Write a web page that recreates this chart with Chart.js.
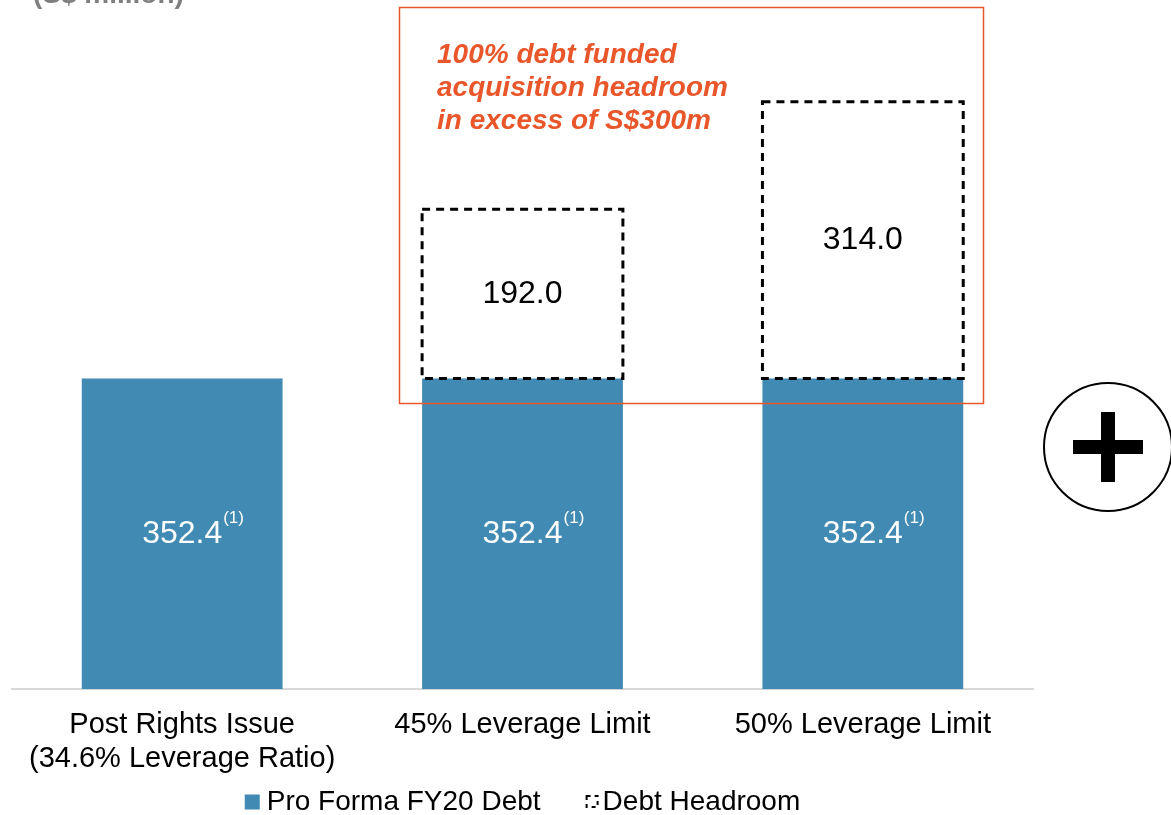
<!DOCTYPE html>
<html>
<head>
<meta charset="utf-8">
<script src="https://cdn.jsdelivr.net/npm/chart.js@4/dist/chart.umd.min.js"></script>
<style>
  html, body { margin: 0; padding: 0; background: #fff; overflow: hidden; }
  #graph { display: block; }
</style>
</head>
<body>
<canvas id="graph" width="1171" height="815"></canvas>
<script>
const categories = [
    ['Post Rights Issue', '(34.6% Leverage Ratio)'],
    '45% Leverage Limit',
    '50% Leverage Limit'
]
const debt = [352.4, 352.4, 352.4]
const headroom = [null, 192.0, 314.0]
const seriesNames = ['Pro Forma FY20 Debt', 'Debt Headroom']

const blue = '#418ab3'
const orange = '#e8562a'
const font = "'Liberation Sans', Arial, sans-serif"

const extras = {
    id: 'extras',
    afterDatasetsDraw(chart) {
        let ctx = chart.ctx
        ctx.save()
        // dashed outline of headroom bars
        chart.getDatasetMeta(1).data.forEach((bar, i) => {
            if (headroom[i] == null) return
            let p = bar.getProps(['x', 'y', 'base', 'width'], true)
            ctx.strokeStyle = '#000'
            ctx.lineWidth = 3
            ctx.setLineDash([8, 6])
            ctx.strokeRect(p.x - p.width / 2, p.y, p.width, p.base - p.y)
            ctx.setLineDash([])
            ctx.fillStyle = '#000'
            ctx.font = '32px ' + font
            ctx.textAlign = 'center'
            ctx.textBaseline = 'middle'
            ctx.fillText(headroom[i].toFixed(1), p.x, (p.y + p.base) / 2)
        })
        // debt labels
        chart.getDatasetMeta(0).data.forEach((bar, i) => {
            let p = bar.getProps(['x', 'y', 'base', 'width'], true)
            let cy = (p.y + p.base) / 2
            ctx.fillStyle = '#fff'
            ctx.font = '32px ' + font
            ctx.textAlign = 'center'
            ctx.textBaseline = 'middle'
            let txt = debt[i].toFixed(1)
            ctx.fillText(txt, p.x, cy)
            let w = ctx.measureText(txt).width
            ctx.font = '17px ' + font
            ctx.textAlign = 'left'
            ctx.fillText('(1)', p.x + w / 2 + 1, cy - 16)
        })
        ctx.restore()
    },
    afterDraw(chart) {
        let ctx = chart.ctx
        let area = chart.chartArea
        ctx.save()
        // cut-off unit title
        ctx.fillStyle = '#7f7f7f'
        ctx.font = 'bold 28px ' + font
        ctx.textAlign = 'left'
        ctx.textBaseline = 'alphabetic'
        ctx.fillText('(S$ million)', 33, 3)
        // orange callout box
        ctx.strokeStyle = orange
        ctx.lineWidth = 1.5
        ctx.strokeRect(399.5, 7.5, 584, 396)
        ctx.fillStyle = orange
        ctx.font = 'italic bold 28px ' + font
        ;['100% debt funded', 'acquisition headroom', 'in excess of S$300m'].forEach((l, i) => {
            ctx.fillText(l, 437, 63 + i * 33)
        })
        // plus sign in circle
        ctx.strokeStyle = '#000'
        ctx.lineWidth = 2
        ctx.beginPath()
        ctx.arc(1108, 447, 64, 0, Math.PI * 2)
        ctx.stroke()
        ctx.fillStyle = '#000'
        ctx.fillRect(1073, 440, 70, 14)
        ctx.fillRect(1101, 412, 14, 70)

        // legend
        ctx.font = '28px ' + font
        ctx.textBaseline = 'middle'
        let w0 = ctx.measureText(seriesNames[0]).width
        let w1 = ctx.measureText(seriesNames[1]).width
        let total = 15 + 7 + w0 + 45 + 14 + 3 + w1
        let x = (area.left + area.right) / 2 - total / 2
        let y = 802
        ctx.fillStyle = blue
        ctx.fillRect(x, y - 7.5, 15, 15)
        ctx.fillStyle = '#000'
        ctx.fillText(seriesNames[0], x + 22, y)
        x += 22 + w0 + 45
        ctx.strokeStyle = '#000'
        ctx.lineWidth = 2
        ctx.setLineDash([4, 4])
        ctx.strokeRect(x + 1, y - 6, 11, 11)
        ctx.setLineDash([])
        ctx.fillText(seriesNames[1], x + 17, y)
        ctx.restore()
    }
}

let ctx = document.getElementById('graph').getContext('2d')
new Chart(ctx, {
    type: 'bar',
    data: {
        labels: categories,
        datasets: [{
            label: seriesNames[0],
            data: debt,
            backgroundColor: blue,
            borderWidth: 0
        }, {
            label: seriesNames[1],
            data: headroom,
            backgroundColor: '#fff',
            borderWidth: 0
        }]
    },
    options: {
        responsive: false,
        animation: false,
        devicePixelRatio: 1,
        categoryPercentage: 1,
        barPercentage: 0.59,
        layout: { padding: { top: 28, left: 12, right: 138, bottom: 28 } },
        plugins: {
            tooltip: { enabled: false },
            legend: { display: false }
        },
        scales: {
            x: {
                stacked: true,
                grid: { display: false },
                border: { color: '#d9d9d9', width: 2 },
                ticks: {
                    color: '#000',
                    font: { family: font, size: 29, lineHeight: 1.17 },
                    padding: 11,
                    maxRotation: 0
                }
            },
            y: {
                stacked: true,
                display: false,
                min: 0,
                max: 750
            }
        }
    },
    plugins: [extras]
})
</script>
</body>
</html>
